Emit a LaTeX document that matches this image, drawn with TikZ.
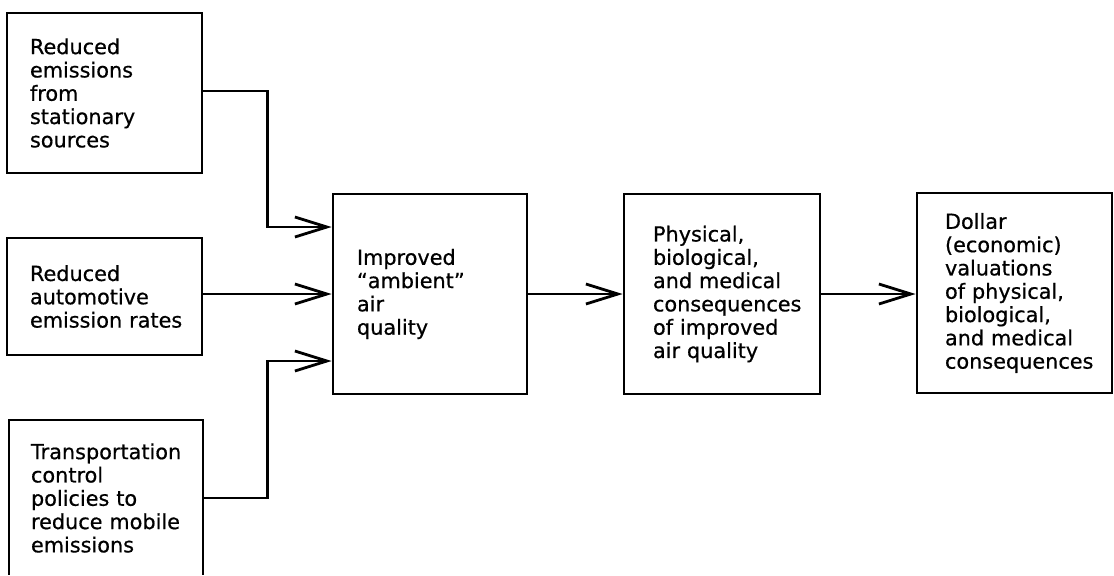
\documentclass[tikz,border=0pt]{standalone}
\usepackage{fontspec}
\usepackage{tikz}
\usetikzlibrary{arrows.meta}
\newfontfamily\blockfont[FakeBold=0.6]{DejaVu Sans}

\tikzset{
  box/.style={draw, line width=1.4pt, inner sep=0pt, align=left, font=\blockfont\fontsize{10.4}{11.65}\selectfont},
  inset/.style={execute at begin node={\leftskip=#1}},
  flow/.style={line width=1.3pt, -{Straight Barb[length=16pt,width=10pt,line width=1.4pt]}},
}

\begin{document}
\begin{tikzpicture}[x=0.5pt,y=-0.5pt]
  \useasboundingbox (0,0) rectangle (1114,575);
  \clip (0,0) rectangle (1114,574);
  \node[box, text width=97.5pt, minimum height=80pt, inset=11.5pt] (src) at (104.5,93) {Reduced\\emissions\\from\\stationary\\sources};
  \node[box, text width=97.5pt, minimum height=58.5pt, inset=11.5pt] (auto) at (104.5,296.5) {Reduced\\automotive\\emission rates};
  \node[box, text width=97pt, minimum height=78pt, inset=11pt] (trans) at (106,498) {Transportation\\control\\policies to\\reduce mobile\\emissions};
  \node[box, text width=97pt, minimum height=100pt, inset=12pt] (air) at (430,294) {Improved\\“ambient”\\air\\quality};
  \node[box, text width=98pt, minimum height=100pt, inset=14.5pt] (phys) at (722,294) {Physical,\\biological,\\and medical\\consequences\\of improved\\air quality};
  \node[box, text width=97.5pt, minimum height=100pt, inset=14pt] (dollar) at (1014.5,293) {Dollar\\(economic)\\valuations\\of physical,\\biological,\\and medical\\consequences};
  \coordinate (split) at (267.5,0);
  \coordinate (inA) at ([yshift=33.5pt]air.west);
  \coordinate (inC) at ([yshift=-33.5pt]air.west);
  \draw[flow] ([yshift=1pt]src.east) -| (split |- inA) -- (inA);
  \draw[flow] (auto.east |- air.west) -- (air.west);
  \draw[flow] (trans.east) -| (split |- inC) -- (inC);
  \draw[flow] (air.east) -- (phys.west);
  \draw[flow] (phys.east) -- (phys.east -| dollar.west);
\end{tikzpicture}
\end{document}
